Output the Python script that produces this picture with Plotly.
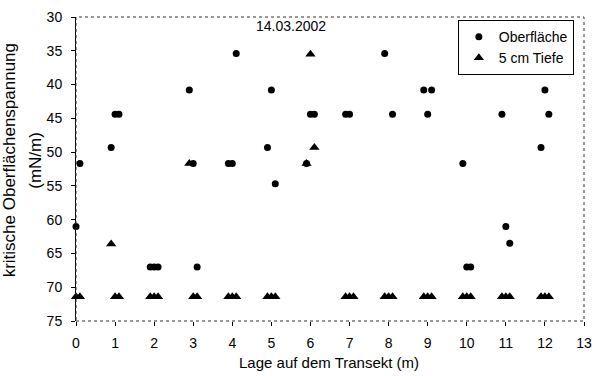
import plotly.graph_objects as go

# Oberfläche (surface) measurements
surf_x = [0.0, 0.1, 0.9, 1.0, 1.1, 1.9, 2.0, 2.1, 2.9, 3.0, 3.1, 3.9, 4.0, 4.1,
          4.9, 5.0, 5.1, 5.9, 6.0, 6.1, 6.9, 7.0, 7.9, 8.1, 8.9, 9.0, 9.1,
          9.9, 10.0, 10.1, 10.9, 11.0, 11.1, 11.9, 12.0, 12.1]
surf_y = [61.0, 51.7, 49.3, 44.4, 44.4, 67.0, 67.0, 67.0, 40.8, 51.7, 67.0, 51.7, 51.7, 35.4,
          49.3, 40.8, 54.7, 51.7, 44.4, 44.4, 44.4, 44.4, 35.4, 44.4, 40.8, 44.4, 40.8,
          51.7, 67.0, 67.0, 44.4, 61.0, 63.5, 49.3, 40.8, 44.4]

# 5 cm Tiefe (5 cm depth) measurements
deep_x = [0.0, 0.1, 0.9, 1.0, 1.1, 1.9, 2.0, 2.1, 2.9, 3.0, 3.1, 3.9, 4.0, 4.1,
          4.9, 5.0, 5.1, 5.9, 6.0, 6.1, 6.9, 7.0, 7.1, 7.9, 8.0, 8.1,
          8.9, 9.0, 9.1, 9.9, 10.0, 10.1, 10.9, 11.0, 11.1, 11.9, 12.0, 12.1]
deep_y = [71.4, 71.4, 63.6, 71.4, 71.4, 71.4, 71.4, 71.4, 51.7, 71.4, 71.4, 71.4, 71.4, 71.4,
          71.4, 71.4, 71.4, 51.7, 35.5, 49.3, 71.4, 71.4, 71.4, 71.4, 71.4, 71.4,
          71.4, 71.4, 71.4, 71.4, 71.4, 71.4, 71.4, 71.4, 71.4, 71.4, 71.4, 71.4]

x_ticks = list(range(0, 14))
y_ticks = list(range(30, 80, 5))

FONT = "Liberation Sans, Arial, sans-serif"

fig = go.Figure()
fig.add_trace(go.Scatter(x=surf_x, y=surf_y, mode="markers", name="Oberfläche",
                         marker=dict(symbol="circle", size=7, color="black"),
                         cliponaxis=False))
fig.add_trace(go.Scatter(x=deep_x, y=deep_y, mode="markers", name="5 cm Tiefe",
                         marker=dict(symbol="triangle-up", size=9, color="black"),
                         cliponaxis=False))

fig.update_layout(
    width=601, height=376,
    margin=dict(l=76, r=9, t=12, b=55),
    paper_bgcolor="white", plot_bgcolor="white",
    font=dict(family=FONT, size=14, color="black"),
    showlegend=True,
    legend=dict(x=0.98, y=0.99, xanchor="right", yanchor="top",
                bgcolor="white", bordercolor="black", borderwidth=1,
                font=dict(size=14), itemwidth=30, tracegroupgap=0),
    xaxis=dict(range=[0, 13], tickvals=x_ticks, ticktext=[str(v) for v in x_ticks],
               showgrid=False, zeroline=False, showline=False,
               ticks="outside", ticklen=4, tickcolor="black",
               ticklabelstandoff=5, tickfont=dict(size=14)),
    yaxis=dict(range=[75, 30], tickvals=y_ticks, ticktext=[str(v) for v in y_ticks],
               showgrid=False, zeroline=False, showline=True, linecolor="black", linewidth=1,
               ticks="outside", ticklen=4, tickcolor="black",
               ticklabelstandoff=6, tickfont=dict(size=14)),
    shapes=[dict(type="rect", xref="paper", yref="paper", x0=0, y0=0, x1=1, y1=1,
                 line=dict(color="#333", width=1, dash="dot"), layer="above")],
    annotations=[
        dict(text="14.03.2002", xref="paper", yref="paper", x=0.4225, y=0.971,
             showarrow=False, font=dict(size=14), xanchor="center", yanchor="middle"),
        dict(text="Lage auf dem Transekt (m)", xref="paper", yref="paper", x=0.498, y=-0.137,
             showarrow=False, font=dict(size=15), xanchor="center", yanchor="middle"),
        dict(text="kritische Oberflächenspannung", xref="paper", yref="paper", x=-0.131, y=0.53,
             showarrow=False, font=dict(size=17), textangle=-90, xanchor="center", yanchor="middle"),
        dict(text="(mN/m)", xref="paper", yref="paper", x=-0.079, y=0.53,
             showarrow=False, font=dict(size=17), textangle=-90, xanchor="center", yanchor="middle"),
    ],
)

fig.write_html("out.html")
